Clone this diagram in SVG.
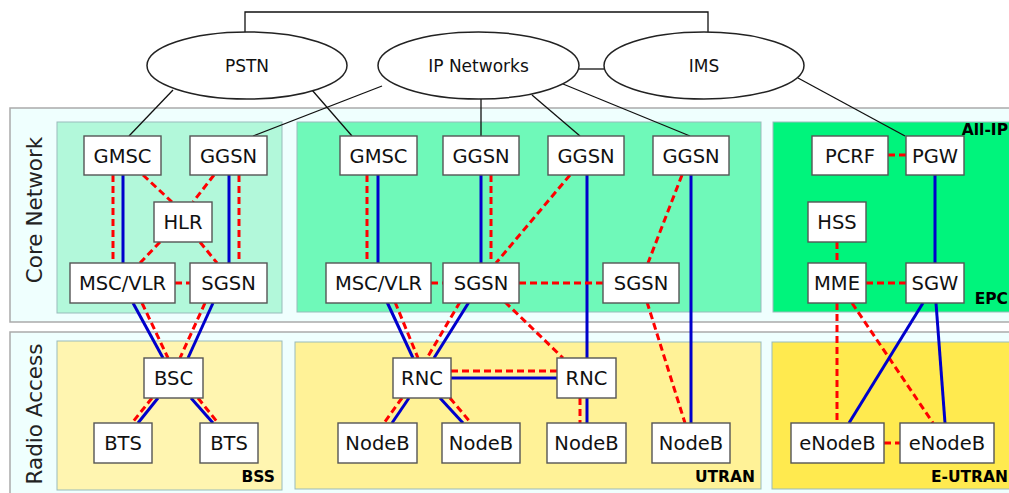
<svg xmlns="http://www.w3.org/2000/svg" width="1009" height="493" viewBox="0 0 1009 493">
<style>
.outer{fill:#effffe;stroke:#aaa;stroke-width:1.5}
.n rect{fill:#fff;stroke:#555;stroke-width:1.4}
.n text,.e text{font-family:"DejaVu Sans",sans-serif;font-size:19.5px;fill:#111;text-anchor:middle}
.e ellipse{fill:#fff;stroke:#222;stroke-width:1.5}
.e text{font-size:17px}
.lab{font-family:"DejaVu Sans",sans-serif;font-size:21.5px;fill:#222;text-anchor:middle}
.tag{font-family:"DejaVu Sans",sans-serif;font-size:15.5px;font-weight:bold;fill:#000;text-anchor:end}
.k{stroke:#111;stroke-width:1.3;fill:none}
.b{stroke:#0000cc;stroke-width:3;fill:none}
.r{stroke:#ff0000;stroke-width:3;stroke-dasharray:7 4;fill:none}
.g{stroke:#9bb;stroke-width:1}
</style>
<rect width="1009" height="493" fill="#fff"/>
<g id="regions">
<rect class="outer" x="10" y="108" width="1010" height="214"/>
<rect class="outer" x="10" y="332" width="1010" height="170"/>
<rect class="g" x="57" y="122" width="225" height="191" fill="#b2f8da"/>
<rect class="g" x="297" y="122" width="464" height="190" fill="#6ff9b9"/>
<rect class="g" x="773" y="122" width="250" height="190" fill="#00f47c"/>
<rect class="g" x="57" y="341" width="225" height="149" fill="#fff5b0"/>
<rect class="g" x="295" y="342" width="466" height="147" fill="#fff297"/>
<rect class="g" x="772" y="342" width="250" height="147" fill="#ffea4f"/>
<text class="lab" transform="translate(42,210) rotate(-90)">Core Network</text>
<text class="lab" transform="translate(42,414) rotate(-90)">Radio Access</text>
<text class="tag" x="1008" y="135">All-IP</text>
<text class="tag" x="1008" y="304">EPC</text>
<text class="tag" x="275" y="482">BSS</text>
<text class="tag" x="755" y="482">UTRAN</text>
<text class="tag" x="1008" y="482">E-UTRAN</text>
</g>
<g id="connectors">
<path class="k" d="M245,32 V12 H708 V32"/>
<line class="k" x1="579" y1="69" x2="604" y2="69"/>
<line class="k" x1="173" y1="90" x2="129" y2="136"/>
<line class="k" x1="382" y1="86" x2="253" y2="136"/>
<line class="k" x1="312" y1="90" x2="352" y2="136"/>
<line class="k" x1="481" y1="99" x2="481" y2="136"/>
<line class="k" x1="532" y1="95" x2="580" y2="136"/>
<line class="k" x1="563" y1="84" x2="690" y2="136"/>
<line class="k" x1="798" y1="78" x2="905" y2="136"/>
<line class="r" x1="113" y1="175" x2="113" y2="263"/>
<line class="b" x1="123" y1="175" x2="123" y2="263"/>
<line class="b" x1="229" y1="175" x2="229" y2="263"/>
<line class="r" x1="239" y1="175" x2="239" y2="263"/>
<line class="r" x1="143" y1="175" x2="172" y2="202"/>
<line class="r" x1="214" y1="175" x2="193" y2="202"/>
<line class="r" x1="160" y1="242" x2="140" y2="263"/>
<line class="r" x1="200" y1="242" x2="217" y2="263"/>
<line class="r" x1="175" y1="283" x2="190" y2="283"/>
<line class="b" x1="133" y1="303" x2="163" y2="358"/>
<line class="r" x1="142" y1="303" x2="168" y2="358"/>
<line class="b" x1="213" y1="303" x2="188" y2="358"/>
<line class="r" x1="205" y1="303" x2="180" y2="358"/>
<line class="b" x1="158" y1="398" x2="138" y2="423"/>
<line class="r" x1="152" y1="398" x2="132" y2="423"/>
<line class="b" x1="191" y1="398" x2="213" y2="423"/>
<line class="r" x1="198" y1="398" x2="218" y2="423"/>
<line class="r" x1="367" y1="175" x2="367" y2="263"/>
<line class="b" x1="378" y1="175" x2="378" y2="263"/>
<line class="b" x1="481" y1="175" x2="481" y2="263"/>
<line class="r" x1="491" y1="175" x2="491" y2="263"/>
<line class="r" x1="570" y1="175" x2="496" y2="263"/>
<line class="b" x1="587" y1="175" x2="587" y2="358"/>
<line class="r" x1="682" y1="175" x2="648" y2="263"/>
<line class="b" x1="691" y1="175" x2="691" y2="423"/>
<line class="r" x1="431" y1="283" x2="443" y2="283"/>
<line class="r" x1="519" y1="283" x2="603" y2="283"/>
<line class="b" x1="387" y1="302" x2="413" y2="358"/>
<line class="r" x1="395" y1="302" x2="418" y2="358"/>
<line class="b" x1="469" y1="302" x2="434" y2="358"/>
<line class="r" x1="460" y1="302" x2="427" y2="358"/>
<line class="r" x1="505" y1="302" x2="563" y2="358"/>
<line class="r" x1="647" y1="302" x2="685" y2="423"/>
<line class="r" x1="451" y1="371" x2="557" y2="371"/>
<line class="b" x1="451" y1="378" x2="557" y2="378"/>
<line class="b" x1="409" y1="398" x2="392" y2="423"/>
<line class="r" x1="402" y1="398" x2="384" y2="423"/>
<line class="b" x1="440" y1="398" x2="463" y2="423"/>
<line class="r" x1="450" y1="398" x2="471" y2="423"/>
<line class="r" x1="580" y1="398" x2="580" y2="423"/>
<line class="b" x1="587" y1="398" x2="587" y2="423"/>
<line class="r" x1="888" y1="155" x2="906" y2="155"/>
<line class="b" x1="935" y1="175" x2="935" y2="263"/>
<line class="r" x1="837" y1="242" x2="837" y2="263"/>
<line class="r" x1="866" y1="283" x2="906" y2="283"/>
<line class="r" x1="837" y1="303" x2="837" y2="423"/>
<line class="r" x1="852" y1="303" x2="933" y2="423"/>
<line class="b" x1="923" y1="303" x2="849" y2="423"/>
<line class="b" x1="936" y1="303" x2="945" y2="423"/>
<line class="r" x1="884" y1="443" x2="900" y2="443"/>
</g>
<g id="PSTN" class="e"><ellipse cx="247" cy="65.5" rx="100" ry="33.5"/><text x="247" y="72">PSTN</text></g>
<g id="IPNetworks" class="e"><ellipse cx="478.5" cy="65.5" rx="100.5" ry="33.5"/><text x="478.5" y="72">IP Networks</text></g>
<g id="IMS" class="e"><ellipse cx="704" cy="65.5" rx="100" ry="33.5"/><text x="704" y="72">IMS</text></g>
<g id="GMSC1" class="n"><rect x="84" y="136" width="77" height="39"/><text x="122.5" y="163">GMSC</text></g>
<g id="GGSN1" class="n"><rect x="190" y="136" width="77" height="39"/><text x="228.5" y="163">GGSN</text></g>
<g id="HLR" class="n"><rect x="154" y="202" width="58" height="40"/><text x="183" y="229">HLR</text></g>
<g id="MSCVLR1" class="n"><rect x="70" y="263" width="105" height="40"/><text x="122.5" y="290">MSC/VLR</text></g>
<g id="SGSN1" class="n"><rect x="190" y="263" width="77" height="40"/><text x="228.5" y="290">SGSN</text></g>
<g id="BSC" class="n"><rect x="144" y="358" width="59" height="40"/><text x="173.5" y="385">BSC</text></g>
<g id="BTS1" class="n"><rect x="94" y="423" width="58" height="40"/><text x="123" y="450">BTS</text></g>
<g id="BTS2" class="n"><rect x="200" y="423" width="58" height="40"/><text x="229" y="450">BTS</text></g>
<g id="GMSC2" class="n"><rect x="340" y="136" width="77" height="39"/><text x="378.5" y="163">GMSC</text></g>
<g id="GGSN2" class="n"><rect x="443" y="136" width="76" height="39"/><text x="481" y="163">GGSN</text></g>
<g id="GGSN3" class="n"><rect x="548" y="136" width="76" height="39"/><text x="586" y="163">GGSN</text></g>
<g id="GGSN4" class="n"><rect x="653" y="136" width="76" height="39"/><text x="691" y="163">GGSN</text></g>
<g id="MSCVLR2" class="n"><rect x="326" y="263" width="105" height="40"/><text x="378.5" y="290">MSC/VLR</text></g>
<g id="SGSN2" class="n"><rect x="443" y="263" width="76" height="40"/><text x="481" y="290">SGSN</text></g>
<g id="SGSN3" class="n"><rect x="603" y="263" width="76" height="40"/><text x="641" y="290">SGSN</text></g>
<g id="RNC1" class="n"><rect x="393" y="358" width="58" height="40"/><text x="422" y="385">RNC</text></g>
<g id="RNC2" class="n"><rect x="557" y="358" width="59" height="40"/><text x="586.5" y="385">RNC</text></g>
<g id="NodeB1" class="n"><rect x="338" y="423" width="79" height="40"/><text x="377.5" y="450">NodeB</text></g>
<g id="NodeB2" class="n"><rect x="442" y="423" width="78" height="40"/><text x="481" y="450">NodeB</text></g>
<g id="NodeB3" class="n"><rect x="547" y="423" width="79" height="40"/><text x="586.5" y="450">NodeB</text></g>
<g id="NodeB4" class="n"><rect x="652" y="423" width="78" height="40"/><text x="691" y="450">NodeB</text></g>
<g id="PCRF" class="n"><rect x="812" y="136" width="76" height="39"/><text x="850" y="163">PCRF</text></g>
<g id="PGW" class="n"><rect x="906" y="136" width="58" height="39"/><text x="935" y="163">PGW</text></g>
<g id="HSS" class="n"><rect x="808" y="202" width="58" height="40"/><text x="837" y="229">HSS</text></g>
<g id="MME" class="n"><rect x="808" y="263" width="58" height="40"/><text x="837" y="290">MME</text></g>
<g id="SGW" class="n"><rect x="906" y="263" width="58" height="40"/><text x="935" y="290">SGW</text></g>
<g id="eNodeB1" class="n"><rect x="791" y="423" width="93" height="40"/><text x="837.5" y="450">eNodeB</text></g>
<g id="eNodeB2" class="n"><rect x="900" y="423" width="94" height="40"/><text x="947" y="450">eNodeB</text></g>
</svg>
